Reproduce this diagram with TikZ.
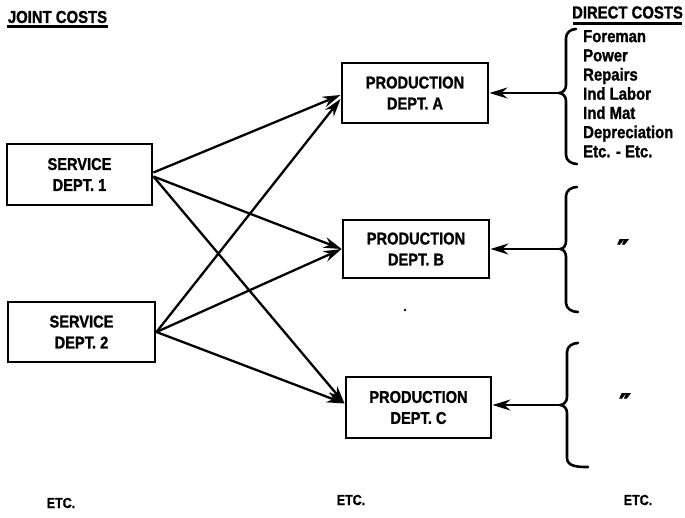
\documentclass[tikz,border=0pt]{standalone}
\usepackage{fontspec}
\setmainfont{Liberation Sans}
\newfontfamily\condfont[FakeStretch=0.86,FakeBold=1.2]{Liberation Sans Bold}
\newfontfamily\dittofont[FakeBold=3]{DejaVu Sans Bold}
\usetikzlibrary{arrows.meta}
\begin{document}
\begin{tikzpicture}[x=1pt,y=1pt,
  dept/.style={draw, line width=2.9pt, align=center, inner sep=0pt,
    font=\condfont\fontsize{17}{21}\selectfont},
  arr/.style={line width=2.3pt, -{Stealth[length=18pt,width=11pt,inset=6pt]}},
  brace/.style={line width=2.6pt, line cap=round, line join=round},
  head/.style={font=\condfont\fontsize{17.3}{17}\selectfont, inner sep=0pt},
  uline/.style={line width=2.4pt},
  etc/.style={font=\condfont\fontsize{14.5}{14}\selectfont, inner sep=0pt}]
\useasboundingbox (0,0) rectangle (685,-517);
% headers
\node[head] (jc) at (57.5,-17) {JOINT COSTS};
\draw[uline] (7,-26.5) -- (108,-26.5);
\node[head] (dc) at (627.5,-12.5) {DIRECT COSTS};
\draw[uline] (573,-23.5) -- (682,-23.5);
% departments
\node[dept, minimum width=145pt, minimum height=61pt] (S1) at (79.5,-174.5) {SERVICE\\DEPT. 1};
\node[dept, minimum width=147pt, minimum height=60pt] (S2) at (81.5,-332) {SERVICE\\DEPT. 2};
\node[dept, minimum width=146pt, minimum height=60pt] (A) at (415,-93) {PRODUCTION\\DEPT. A};
\node[dept, minimum width=146pt, minimum height=58pt] (B) at (416,-249) {PRODUCTION\\DEPT. B};
\node[dept, minimum width=145pt, minimum height=61pt] (C) at (418.5,-407.5) {PRODUCTION\\DEPT. C};
% diagonal connectors
\draw[arr] ([yshift=2pt]S1.east) -- ([yshift=-2pt]A.west);
\draw[arr] ([yshift=-2pt]S1.east) -- (B.west);
\draw[arr] ([yshift=-2pt]S1.east) -- ([yshift=4pt]C.west);
\draw[arr] (S2.east) -- ([yshift=-6pt]A.west);
\draw[arr] (S2.east) -- (B.west);
\draw[arr] (S2.east) -- ([yshift=4pt]C.west);
% braces
\coordinate (ta) at (559,-93);
\coordinate (tb) at (560,-249);
\coordinate (tc) at (560,-405);
\draw[brace] (576,-29) to[out=180,in=90] (566,-38) -- (566,-85) to[out=-90,in=0] (ta)
  to[out=0,in=90] (566,-101) -- (566,-155) to[out=-90,in=180] (577,-164);
\draw[brace] (577,-187) to[out=180,in=90] (566,-196) -- (566,-241) to[out=-90,in=0] (tb)
  to[out=0,in=90] (566,-257) -- (566,-303) to[out=-90,in=180] (578,-312);
\draw[brace] (578,-343) to[out=180,in=90] (567,-352) -- (567,-397) to[out=-90,in=0] (tc)
  to[out=0,in=90] (567,-413) -- (567,-458) to[out=-90,in=180] (588,-467);
\draw[arr] (ta) -- (A.east);
\draw[arr] (tb) -- (B.east);
\draw[arr] (tc) -- (C.east |- tc);
% direct cost list
\node[anchor=north west, inner sep=0pt, align=left,
  font=\condfont\fontsize{17.3}{19.2}\selectfont] (list) at (583,-30)
  {Foreman\\Power\\Repairs\\Ind Labor\\Ind Mat\\Depreciation\\Etc. - Etc.};
% ditto marks
\node[font=\dittofont\fontsize{26}{26}\selectfont, inner sep=0pt] (d1) at (623,-249) {″};
\node[font=\dittofont\fontsize{26}{26}\selectfont, inner sep=0pt] (d2) at (625,-403) {″};
% stray dot
\fill (405,-310) circle (1.4pt);
% etc labels
\node[etc] (e1) at (61,-503) {ETC.};
\node[etc] (e2) at (351,-500) {ETC.};
\node[etc] (e3) at (638,-500) {ETC.};
\end{tikzpicture}
\end{document}
